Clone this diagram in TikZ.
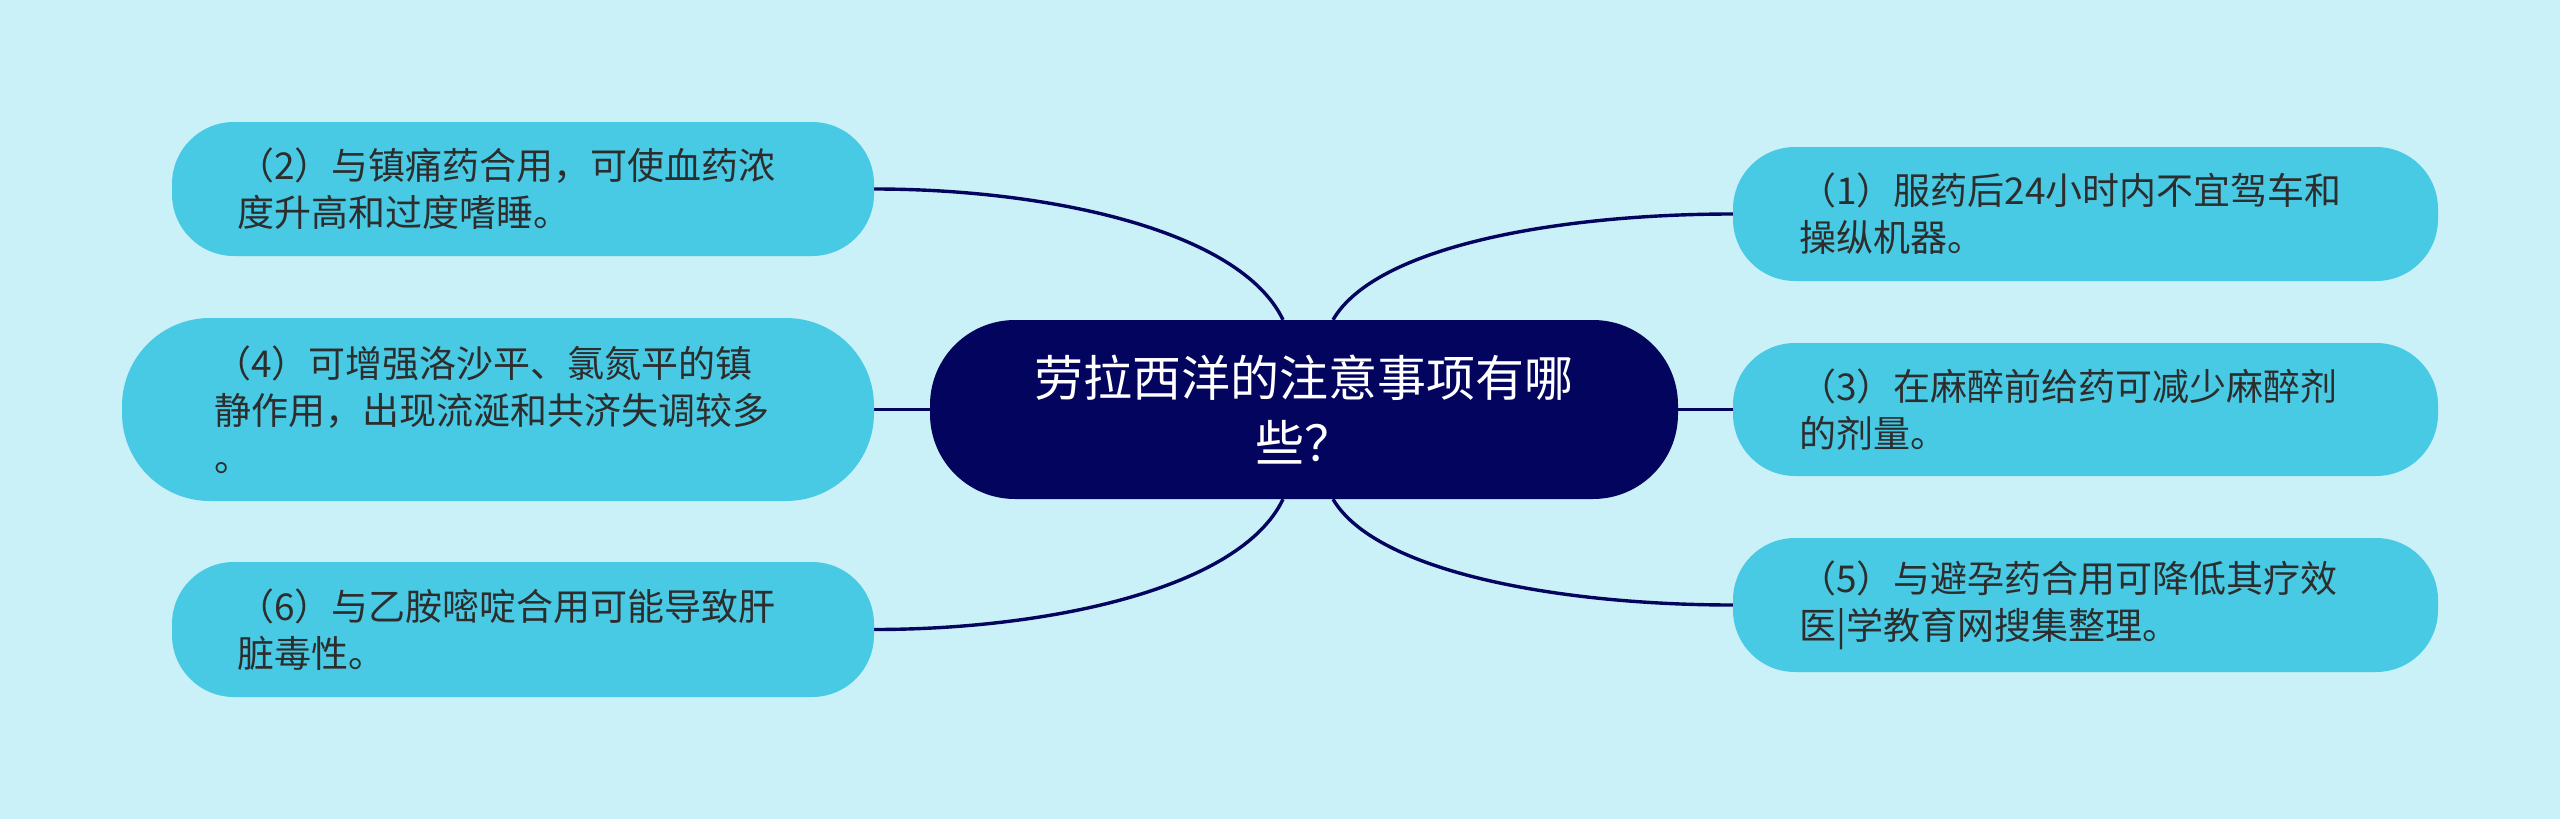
\documentclass[tikz,border=0pt]{standalone}
\usepackage{fontspec}
\newfontfamily\cjkfont{Noto Sans CJK SC}
\usetikzlibrary{backgrounds}
\definecolor{bgc}{HTML}{CAF0F8}
\definecolor{leafc}{HTML}{48CAE4}
\definecolor{rootc}{HTML}{03045E}
\definecolor{txtc}{HTML}{2D2D2D}
\begin{document}
\begin{tikzpicture}[x=1pt,y=-1pt,
  leaf/.style={fill=leafc, rounded corners=62pt, minimum height=134pt, inner ysep=0pt,
    align=left, text=txtc, font=\cjkfont\fontsize{37pt}{47pt}\selectfont},
  rootbox/.style={fill=rootc, rounded corners=85pt, minimum width=748pt, minimum height=179pt,
    inner ysep=0pt, inner xsep=24pt, text width=700pt, align=center, text=white,
    font=\cjkfont\fontsize{49pt}{65pt}\selectfont},
  conn/.style={draw=rootc, line width=3.4pt}]
\useasboundingbox (0,0) rectangle (2560,819);

\node[rootbox] (c) at (1304,409.5) {劳拉西洋的注意事项有哪\\些？};

\node[leaf, minimum width=702pt, text width=572pt, inner xsep=65pt] (b2) at (523,189)
  {（2）与镇痛药合用，可使血药浓\\度升高和过度嗜睡。};
\node[leaf, minimum width=752pt, minimum height=183pt, rounded corners=88pt, text width=568pt, inner xsep=92pt] (b4) at (498,409.5)
  {（4）可增强洛沙平、氯氮平的镇\\静作用，出现流涎和共济失调较多\\。};
\node[leaf, minimum width=702pt, minimum height=135pt, text width=572pt, inner xsep=65pt] (b6) at (523,629.5)
  {（6）与乙胺嘧啶合用可能导致肝\\脏毒性。};

\node[leaf, minimum width=705pt, text width=573pt, inner xsep=66pt] (b1) at (2085.5,214)
  {（1）服药后24小时内不宜驾车和\\操纵机器。};
\node[leaf, minimum width=705pt, minimum height=133pt, text width=573pt, inner xsep=66pt] (b3) at (2085.5,409.5)
  {（3）在麻醉前给药可减少麻醉剂\\的剂量。};
\node[leaf, minimum width=705pt, text width=573pt, inner xsep=66pt] (b5) at (2085.5,605)
  {（5）与避孕药合用可降低其疗效\\医|学教育网搜集整理。};

\begin{pgfonlayer}{background}
  \fill[bgc] (0,0) rectangle (2560,819);
  \draw[conn] ([xshift=-21pt]c.north) .. controls +(-43,-90) and +(173,0) .. (b2.east);
  \draw[conn] ([xshift=29pt]c.north) .. controls +(43,-74) and +(-173,0) .. (b1.west);
  \draw[conn] ([xshift=-21pt]c.south) .. controls +(-43,90) and +(173,0) .. (b6.east);
  \draw[conn] ([xshift=29pt]c.south) .. controls +(43,73) and +(-173,0) .. (b5.west);
  \draw[conn] (c.west) -- (b4.east);
  \draw[conn] (c.east) -- (b3.west);
\end{pgfonlayer}
\end{tikzpicture}
\end{document}
